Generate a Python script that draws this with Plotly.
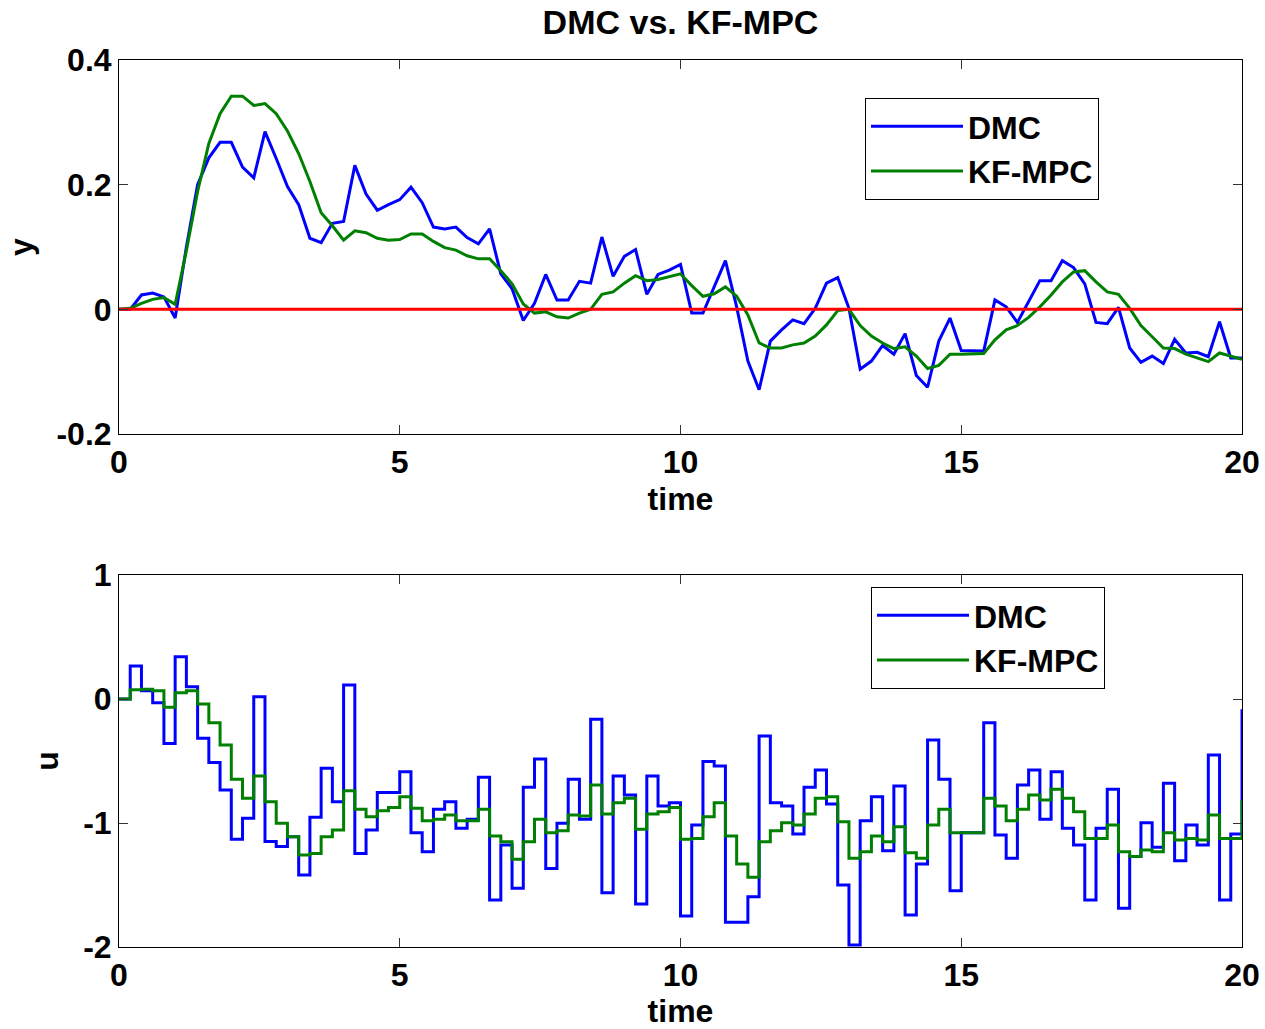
import plotly.graph_objects as go

# ---------------- data ----------------
sample_time = 0.2

y_dmc = [
    0.0, 0.0, 0.023, 0.026, 0.020, -0.014, 0.10, 0.200, 0.243, 0.268,
    0.268, 0.228, 0.211, 0.285, 0.242, 0.197, 0.168, 0.114, 0.107, 0.138,
    0.141, 0.231, 0.185, 0.159, 0.168, 0.176, 0.196, 0.171, 0.132, 0.129,
    0.132, 0.115, 0.105, 0.129, 0.057, 0.033, -0.018, 0.0095, 0.056, 0.015,
    0.015, 0.045, 0.042, 0.116, 0.053, 0.085, 0.096, 0.024, 0.056, 0.063,
    0.072, -0.006, -0.006, 0.036, 0.078, 0.004, -0.083, -0.129, -0.051, -0.033,
    -0.017, -0.023, 0.0016, 0.042, 0.051, 0.0016, -0.096, -0.083, -0.058, -0.072,
    -0.039, -0.106, -0.125, -0.051, -0.014, -0.066, -0.066, -0.067, 0.015, 0.004,
    -0.021, 0.012, 0.046, 0.046, 0.078, 0.067, 0.041, -0.021, -0.023, 0.003,
    -0.062, -0.085, -0.075, -0.087, -0.048, -0.070, -0.069, -0.076, -0.020, -0.078,
    -0.078,
]

y_kfmpc = [
    0.0, 0.0016, 0.0095, 0.016, 0.019, 0.008, 0.094, 0.189, 0.266, 0.314,
    0.342, 0.342, 0.327, 0.330, 0.314, 0.286, 0.250, 0.205, 0.155, 0.134,
    0.111, 0.126, 0.123, 0.114, 0.111, 0.112, 0.121, 0.121, 0.109, 0.099,
    0.095, 0.086, 0.081, 0.081, 0.062, 0.041, 0.0085, -0.006, -0.004, -0.012,
    -0.014, -0.006, 0.0, 0.024, 0.028, 0.042, 0.054, 0.046, 0.048, 0.052,
    0.057, 0.038, 0.021, 0.025, 0.036, 0.021, -0.009, -0.054, -0.062, -0.062,
    -0.057, -0.054, -0.043, -0.025, -0.002, 0.0, -0.026, -0.043, -0.054, -0.063,
    -0.060, -0.075, -0.095, -0.090, -0.072, -0.072, -0.072, -0.071, -0.049, -0.033,
    -0.026, -0.013, 0.004, 0.023, 0.044, 0.060, 0.062, 0.044, 0.028, 0.024,
    0.0016, -0.026, -0.044, -0.062, -0.063, -0.072, -0.078, -0.084, -0.070, -0.075,
    -0.080,
]

setpoint = [0.0, 0.0]
setpoint_time = [0.0, 20.0]

u_dmc = [
    0.0, 0.266, 0.067, -0.030, -0.358, 0.341, 0.099, -0.317, -0.513, -0.734,
    -1.132, -0.962, 0.019, -1.15, -1.19, -1.11, -1.42, -0.954, -0.559, -0.828,
    0.113, -1.245, -1.056, -0.755, -0.755, -0.586, -1.078, -1.231, -0.890, -0.828,
    -1.043, -0.970, -0.632, -1.621, -1.177, -1.527, -0.712, -0.484, -1.366, -1.003,
    -0.648, -0.970, -0.164, -1.562, -0.621, -0.774, -1.653, -0.621, -0.863, -0.836,
    -1.75, -1.016, -0.505, -0.540, -1.80, -1.80, -1.594, -0.298, -0.836, -0.863,
    -1.089, -0.712, -0.573, -0.847, -1.5, -1.984, -0.981, -0.788, -1.223, -0.702,
    -1.742, -1.331, -0.331, -0.648, -1.546, -1.078, -1.078, -0.191, -1.097, -1.285,
    -0.694, -0.573, -0.970, -0.586, -1.043, -1.177, -1.621, -1.043, -0.728, -1.688,
    -1.271, -0.997, -1.196, -0.680, -1.304, -1.016, -1.177, -0.452, -1.621, -1.089,
    -0.083,
]

u_kfmpc = [
    0.0, 0.075, 0.078, 0.067, -0.067, 0.051, 0.067, -0.040, -0.191, -0.371,
    -0.648, -0.801, -0.621, -0.828, -1.003, -1.11, -1.258, -1.245, -1.11, -1.056,
    -0.739, -0.890, -0.949, -0.901, -0.874, -0.788, -0.882, -0.981, -0.970, -0.935,
    -0.981, -0.981, -0.890, -1.105, -1.151, -1.293, -1.151, -0.970, -1.078, -1.062,
    -0.935, -0.944, -0.694, -0.927, -0.836, -0.801, -1.051, -0.927, -0.909, -0.874,
    -1.132, -1.124, -0.949, -0.836, -1.105, -1.331, -1.438, -1.151, -1.062, -0.997,
    -1.016, -0.927, -0.801, -0.788, -0.989, -1.285, -1.231, -1.105, -1.151, -1.030,
    -1.239, -1.285, -1.016, -0.890, -1.078, -1.078, -1.078, -0.801, -0.863, -0.981,
    -0.890, -0.774, -0.815, -0.728, -0.801, -0.909, -1.124, -1.124, -1.016, -1.231,
    -1.271, -1.218, -1.231, -1.078, -1.137, -1.124, -1.137, -0.935, -1.124, -1.124,
    -0.815,
]

time = [round(k * sample_time, 1) for k in range(len(y_dmc))]

x_ticks = [0, 5, 10, 15, 20]
x_ticktext = ["0", "5", "10", "15", "20"]
y_ticks = [-0.2, 0, 0.2, 0.4]
y_ticktext = ["-0.2", "0", "0.2", "0.4"]
u_ticks = [-2, -1, 0, 1]
u_ticktext = ["-2", "-1", "0", "1"]

# ---------------- styling ----------------
BLUE = "#0000ff"
GREEN = "#008000"
RED = "#ff0000"
FONT = "Liberation Sans, Arial, Helvetica, sans-serif"
FS = 32
LW = 3

fig = go.Figure()

fig.add_trace(go.Scatter(x=time, y=y_dmc, mode="lines", name="DMC",
                         line=dict(color=BLUE, width=LW), xaxis="x", yaxis="y",
                         legend="legend"))
fig.add_trace(go.Scatter(x=time, y=y_kfmpc, mode="lines", name="KF-MPC",
                         line=dict(color=GREEN, width=LW), xaxis="x", yaxis="y",
                         legend="legend"))
fig.add_trace(go.Scatter(x=setpoint_time, y=setpoint, mode="lines", name="setpoint",
                         line=dict(color=RED, width=LW), xaxis="x", yaxis="y",
                         showlegend=False))

fig.add_trace(go.Scatter(x=time, y=u_dmc, mode="lines", name="DMC",
                         line=dict(color=BLUE, width=LW, shape="hv"),
                         xaxis="x2", yaxis="y2", legend="legend2"))
fig.add_trace(go.Scatter(x=time, y=u_kfmpc, mode="lines", name="KF-MPC",
                         line=dict(color=GREEN, width=LW, shape="hv"),
                         xaxis="x2", yaxis="y2", legend="legend2"))

axis_common = dict(showline=True, linecolor="black", linewidth=1, mirror="ticks",
                   ticks="inside", ticklen=9, tickcolor="#333333", showgrid=False,
                   zeroline=False, automargin=False, ticklabeloverflow="allow",
                   tickfont=dict(family=FONT, size=FS, color="black", weight="bold"))

W, H = 1265, 1029
ml, mr, mt, mb = 119, 23, 60, 82
plot_h = H - mt - mb
plot_w = W - ml - mr
y_bottom_px = H - mb

# reference pixel rows: top axes 60..434, bottom axes 575..947
top_dom = [(y_bottom_px - 434) / plot_h, 1.0]
bot_dom = [0.0, (y_bottom_px - 575) / plot_h]


def px_x(px):
    return (px - ml) / plot_w


def px_y(py):
    return (y_bottom_px - py) / plot_h


legend_common = dict(bgcolor="white", bordercolor="black", borderwidth=1,
                     font=dict(family=FONT, size=FS, color="black", weight="bold"),
                     itemwidth=92, xanchor="left", yanchor="top",
                     tracegroupgap=0)

title_font = dict(family=FONT, size=FS, color="black", weight="bold")

fig.update_layout(
    template="none",
    width=W, height=H,
    margin=dict(l=ml, r=mr, t=mt, b=mb, autoexpand=False),
    paper_bgcolor="white", plot_bgcolor="white",
    title=dict(text="DMC vs. KF-MPC", x=(119 + 1242) / 2 / W, xanchor="center",
               y=1 - 22 / H, yanchor="middle", yref="container",
               font=dict(family=FONT, size=34, color="black", weight="bold")),
    xaxis=dict(domain=[0, 1], anchor="y", range=[0, 20],
               tickvals=x_ticks, ticktext=x_ticktext,
               title=dict(text="time", standoff=8, font=title_font),
               **axis_common),
    yaxis=dict(domain=top_dom, anchor="x", range=[-0.2, 0.4],
               tickvals=y_ticks, ticktext=y_ticktext,
               title=dict(text="y", standoff=14, font=title_font),
               **axis_common),
    xaxis2=dict(domain=[0, 1], anchor="y2", range=[0, 20],
                tickvals=x_ticks, ticktext=x_ticktext,
                title=dict(text="time", standoff=13, font=title_font),
                **axis_common),
    yaxis2=dict(domain=bot_dom, anchor="x2", range=[-2, 1],
                tickvals=u_ticks, ticktext=u_ticktext,
                title=dict(text="u", standoff=14, font=title_font),
                **axis_common),
    legend=dict(x=px_x(865), y=px_y(98), **legend_common),
    legend2=dict(x=px_x(871), y=px_y(587), **legend_common),
)

fig.write_html("out.html")
